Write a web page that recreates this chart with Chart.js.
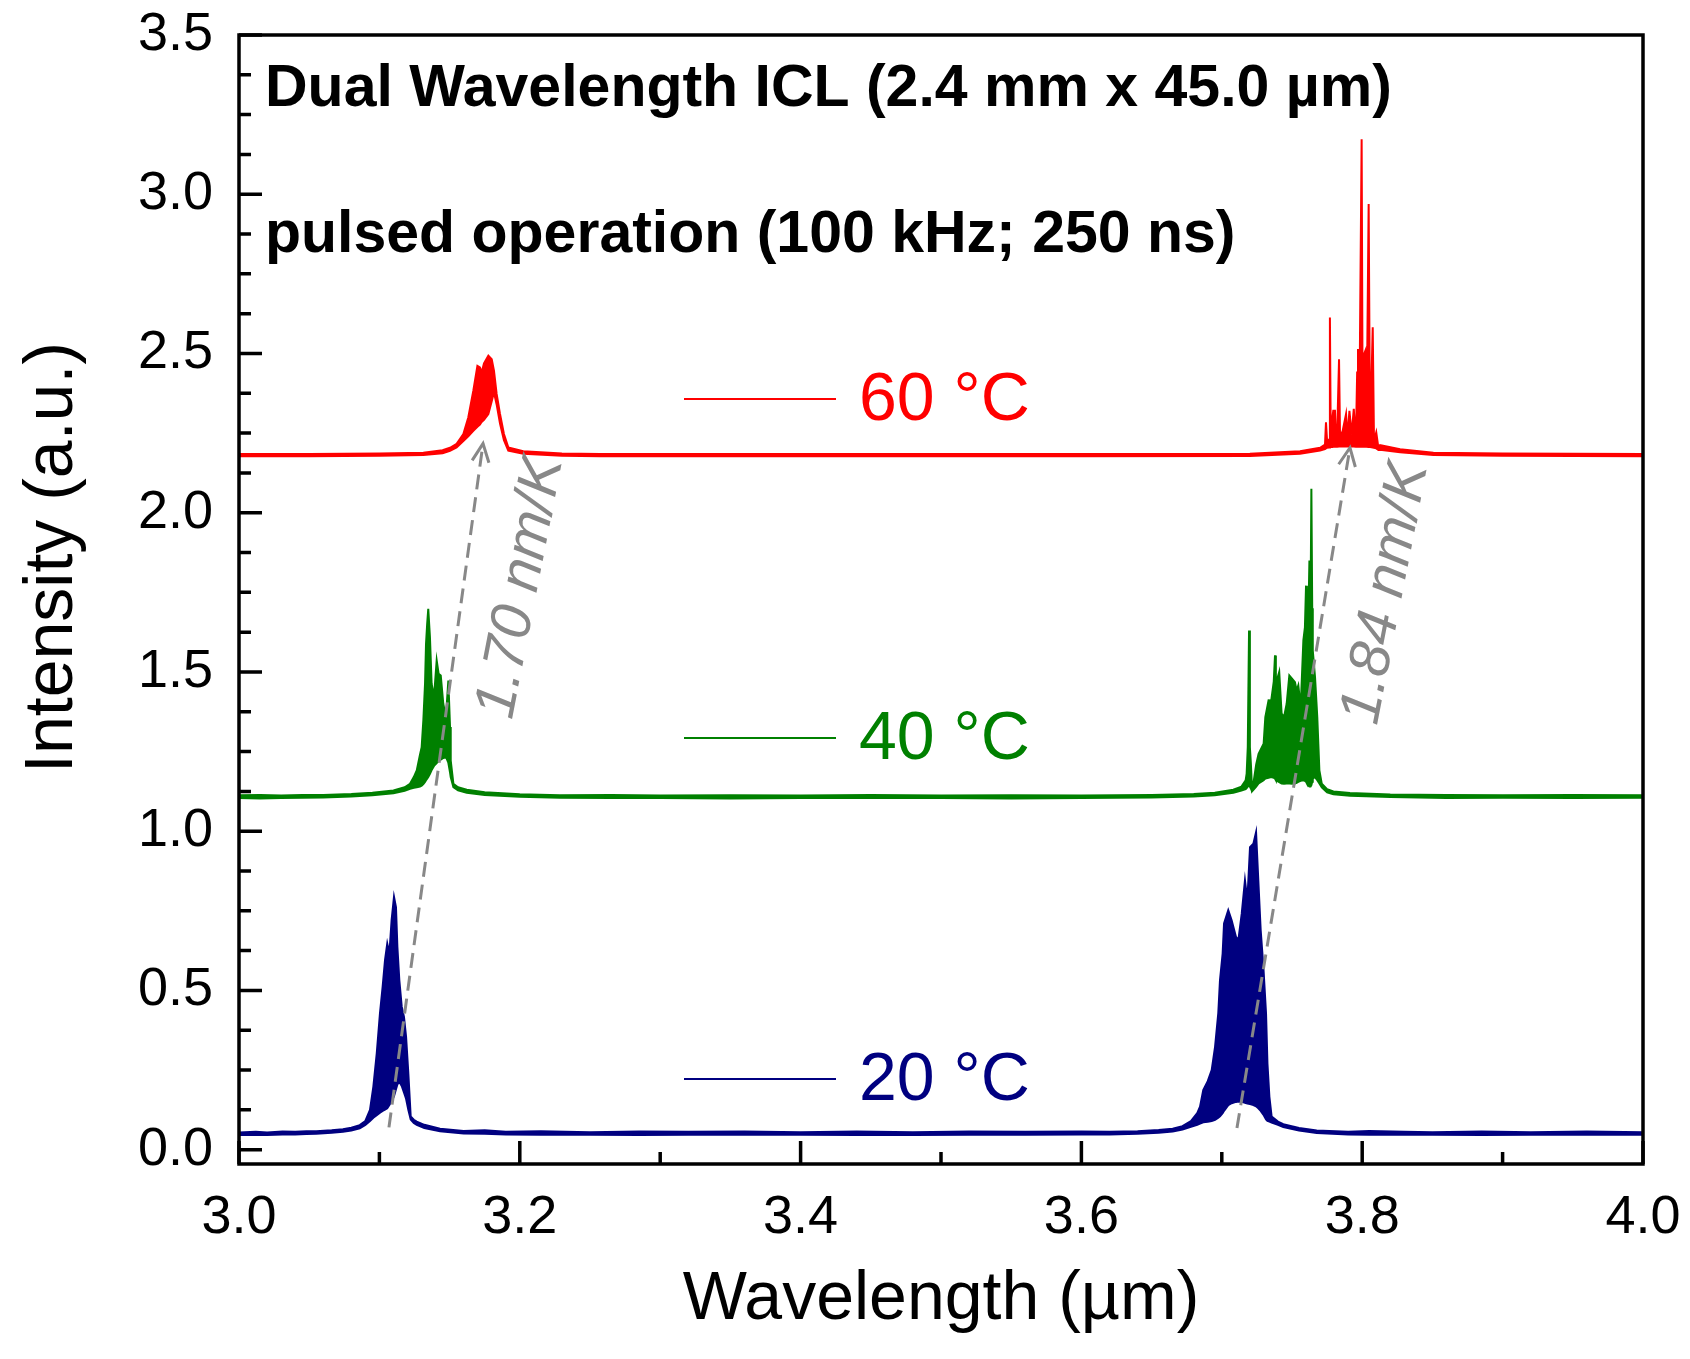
<!DOCTYPE html>
<html>
<head>
<meta charset="utf-8">
<title>Dual Wavelength ICL spectra</title>
<script src="https://cdn.jsdelivr.net/npm/chart.js@4.4.1/dist/chart.umd.min.js"></script>
<style>
  html, body { margin: 0; padding: 0; background: #fff; }
  #wrap { width: 1690px; height: 1359px; position: relative; }
</style>
</head>
<body>
<div id="wrap"><canvas id="spectra"></canvas></div>
<script>
// tick labels
const xTicks = [3.0, 3.2, 3.4, 3.6, 3.8, 4.0];
const yTicks = [0.0, 0.5, 1.0, 1.5, 2.0, 2.5, 3.0, 3.5];

// each point: [wavelength (um), upper envelope, lower envelope]
const spec20 = [
  [3.000, 0.054, 0.046], [3.012, 0.056, 0.047], [3.020, 0.054, 0.046], [3.031, 0.057, 0.048],
  [3.040, 0.056, 0.048], [3.048, 0.058, 0.049], [3.055, 0.058, 0.050],
  [3.066, 0.061, 0.053], [3.074, 0.064, 0.056], [3.080, 0.069, 0.060], [3.086, 0.077, 0.067],
  [3.090, 0.090, 0.078], [3.0933, 0.125, 0.090], [3.0957, 0.198, 0.100], [3.0981, 0.302, 0.108],
  [3.1004, 0.428, 0.116], [3.1023, 0.511, 0.122], [3.1040, 0.595, 0.126], [3.1056, 0.647, 0.130],
  [3.1071, 0.616, 0.140], [3.1087, 0.721, 0.152], [3.1104, 0.794, 0.168], [3.1118, 0.762, 0.190],
  [3.1128, 0.637, 0.205], [3.1142, 0.532, 0.213], [3.1159, 0.449, 0.200], [3.1175, 0.417, 0.180],
  [3.1190, 0.354, 0.160], [3.1206, 0.240, 0.125], [3.1223, 0.104, 0.095], [3.1245, 0.094, 0.084],
  [3.1266, 0.088, 0.078], [3.1320, 0.078, 0.068], [3.1432, 0.066, 0.058], [3.160, 0.059, 0.051],
  [3.175, 0.061, 0.050], [3.190, 0.056, 0.048], [3.215, 0.058, 0.047], [3.250, 0.055, 0.047],
  [3.285, 0.057, 0.046], [3.320, 0.056, 0.047], [3.360, 0.057, 0.047], [3.400, 0.055, 0.047],
  [3.440, 0.057, 0.046], [3.480, 0.055, 0.046], [3.520, 0.057, 0.047], [3.560, 0.056, 0.047],
  [3.600, 0.057, 0.048], [3.620, 0.056, 0.048], [3.640, 0.058, 0.050],
  [3.655, 0.062, 0.053], [3.665, 0.066, 0.057], [3.672, 0.074, 0.063], [3.678, 0.090, 0.072],
  [3.6825, 0.115, 0.078], [3.6845, 0.135, 0.082], [3.6868, 0.187, 0.086], [3.6900, 0.215, 0.088],
  [3.6928, 0.250, 0.090], [3.6952, 0.323, 0.094], [3.6975, 0.429, 0.100], [3.6987, 0.532, 0.105],
  [3.7006, 0.616, 0.115], [3.7016, 0.710, 0.122], [3.7046, 0.752, 0.140], [3.7070, 0.720, 0.146],
  [3.7101, 0.668, 0.150], [3.7118, 0.658, 0.151], [3.7142, 0.741, 0.150], [3.7165, 0.846, 0.147],
  [3.7182, 0.783, 0.145], [3.7201, 0.950, 0.143], [3.7225, 0.961, 0.140], [3.7244, 0.997, 0.136],
  [3.7260, 0.846, 0.130], [3.7277, 0.689, 0.122], [3.7296, 0.574, 0.110], [3.7315, 0.428, 0.095],
  [3.7325, 0.271, 0.090], [3.7339, 0.166, 0.088], [3.7355, 0.104, 0.085], [3.7400, 0.088, 0.078],
  [3.7438, 0.080, 0.071], [3.7550, 0.068, 0.060], [3.7676, 0.060, 0.052], [3.790, 0.056, 0.048],
  [3.805, 0.059, 0.047], [3.830, 0.056, 0.047], [3.850, 0.055, 0.047], [3.885, 0.057, 0.046],
  [3.920, 0.055, 0.047], [3.960, 0.057, 0.047], [4.000, 0.055, 0.047]
];

const spec40 = [
  [3.000, 1.113, 1.104], [3.015, 1.114, 1.103], [3.030, 1.112, 1.104], [3.045, 1.114, 1.105],
  [3.060, 1.114, 1.106], [3.080, 1.117, 1.109],
  [3.095, 1.121, 1.113], [3.110, 1.128, 1.119], [3.118, 1.138, 1.127], [3.1218, 1.149, 1.133],
  [3.1245, 1.170, 1.136], [3.1266, 1.191, 1.138], [3.1289, 1.240, 1.140], [3.1301, 1.264, 1.143],
  [3.1313, 1.348, 1.148], [3.1325, 1.463, 1.155], [3.1332, 1.588, 1.160], [3.1340, 1.650, 1.165],
  [3.1348, 1.698, 1.170], [3.1360, 1.609, 1.180], [3.1372, 1.463, 1.192], [3.1389, 1.421, 1.205],
  [3.1408, 1.536, 1.214], [3.1422, 1.494, 1.220], [3.1437, 1.489, 1.225], [3.1455, 1.400, 1.230],
  [3.1474, 1.358, 1.233], [3.1491, 1.473, 1.215], [3.1503, 1.327, 1.185], [3.1508, 1.222, 1.170],
  [3.1527, 1.149, 1.138], [3.1560, 1.138, 1.128], [3.1622, 1.130, 1.121], [3.175, 1.122, 1.114],
  [3.200, 1.116, 1.108], [3.2286, 1.113, 1.105], [3.265, 1.114, 1.104], [3.300, 1.112, 1.104],
  [3.350, 1.113, 1.103], [3.400, 1.112, 1.104], [3.450, 1.114, 1.104], [3.500, 1.112, 1.104],
  [3.550, 1.113, 1.103], [3.600, 1.112, 1.104], [3.650, 1.114, 1.106], [3.680, 1.117, 1.109],
  [3.695, 1.121, 1.113], [3.7082, 1.130, 1.121], [3.7140, 1.140, 1.128], [3.7170, 1.160, 1.132],
  [3.7177, 1.181, 1.135], [3.7185, 1.264, 1.140], [3.7194, 1.630, 1.145], [3.7200, 1.264, 1.140],
  [3.7207, 1.212, 1.135], [3.7215, 1.135, 1.125], [3.7225, 1.150, 1.130], [3.7245, 1.210, 1.140],
  [3.7262, 1.243, 1.150], [3.7298, 1.275, 1.160], [3.7310, 1.358, 1.165], [3.7333, 1.411, 1.168],
  [3.7352, 1.410, 1.170], [3.7370, 1.470, 1.168], [3.7379, 1.552, 1.165], [3.7385, 1.463, 1.160],
  [3.7409, 1.500, 1.154], [3.7426, 1.369, 1.150], [3.7443, 1.358, 1.149], [3.7462, 1.400, 1.150],
  [3.7481, 1.489, 1.150], [3.7500, 1.479, 1.149], [3.7521, 1.468, 1.150], [3.7533, 1.442, 1.152],
  [3.7545, 1.458, 1.155], [3.7562, 1.390, 1.158], [3.7581, 1.599, 1.160], [3.7592, 1.640, 1.158],
  [3.7600, 1.771, 1.155], [3.7606, 1.600, 1.150], [3.7612, 1.557, 1.145], [3.7624, 1.850, 1.140],
  [3.7632, 1.700, 1.140], [3.7638, 2.075, 1.145], [3.7644, 1.700, 1.155], [3.7648, 1.567, 1.165],
  [3.7664, 1.484, 1.170], [3.7680, 1.358, 1.160], [3.7695, 1.191, 1.150], [3.7712, 1.149, 1.138],
  [3.7750, 1.132, 1.122], [3.7795, 1.125, 1.116], [3.7913, 1.120, 1.111], [3.820, 1.115, 1.107],
  [3.860, 1.114, 1.104], [3.900, 1.113, 1.105], [3.950, 1.114, 1.104], [4.000, 1.113, 1.105]
];

const spec60 = [
  [3.000, 2.184, 2.177], [3.050, 2.184, 2.177], [3.100, 2.186, 2.179], [3.1313, 2.188, 2.181],
  [3.145, 2.196, 2.187], [3.1503, 2.204, 2.194], [3.1550, 2.216, 2.205], [3.1598, 2.247, 2.225],
  [3.1633, 2.299, 2.240], [3.1669, 2.383, 2.257], [3.1698, 2.461, 2.270], [3.1716, 2.456, 2.277],
  [3.1728, 2.440, 2.285], [3.1745, 2.469, 2.292], [3.1776, 2.493, 2.310], [3.1800, 2.482, 2.350],
  [3.1816, 2.446, 2.378], [3.1835, 2.373, 2.340], [3.1859, 2.310, 2.280], [3.1887, 2.247, 2.228],
  [3.1918, 2.205, 2.195], [3.2025, 2.193, 2.185], [3.230, 2.186, 2.179], [3.2571, 2.184, 2.177],
  [3.400, 2.184, 2.177], [3.600, 2.184, 2.177], [3.720, 2.185, 2.178], [3.7557, 2.193, 2.185],
  [3.7700, 2.204, 2.195], [3.7735, 2.214, 2.200], [3.7742, 2.284, 2.202], [3.7750, 2.225, 2.204],
  [3.7764, 2.230, 2.205], [3.7770, 2.613, 2.206], [3.7776, 2.232, 2.206], [3.7788, 2.300, 2.206],
  [3.7794, 2.320, 2.207], [3.7806, 2.320, 2.207], [3.7812, 2.240, 2.207], [3.7822, 2.250, 2.207],
  [3.7835, 2.482, 2.208], [3.7842, 2.245, 2.208], [3.7860, 2.255, 2.208], [3.7885, 2.310, 2.208],
  [3.7895, 2.235, 2.208], [3.7909, 2.320, 2.208], [3.7925, 2.245, 2.208], [3.7940, 2.326, 2.208],
  [3.7955, 2.225, 2.207], [3.7964, 2.440, 2.207], [3.7970, 2.514, 2.207], [3.7978, 2.220, 2.207],
  [3.7996, 3.173, 2.207], [3.8004, 2.225, 2.207], [3.8015, 2.500, 2.207], [3.8022, 2.508, 2.207],
  [3.8030, 2.225, 2.207], [3.8046, 2.969, 2.206], [3.8056, 2.230, 2.206], [3.8075, 2.582, 2.205],
  [3.8084, 2.225, 2.204], [3.8100, 2.252, 2.202], [3.8115, 2.205, 2.197], [3.8127, 2.212, 2.198],
  [3.8270, 2.199, 2.190], [3.8507, 2.188, 2.181], [3.900, 2.186, 2.179], [4.000, 2.184, 2.177]
];

// peak shift arrows [wavelength, intensity] start -> tip
const shiftShort = [[3.1068, 0.070], [3.1738, 2.217]];
const shiftLong = [[3.7108, 0.068], [3.7913, 2.204]];

const series = [
  { label: '20 °C', color: '#000080', pts: spec20 },
  { label: '40 °C', color: '#008000', pts: spec40 },
  { label: '60 °C', color: '#ff0000', pts: spec60 }
];

const slopeLabels = [
  { text: '1.70 nm/K', at: [3.2009, 1.765] },
  { text: '1.84 nm/K', at: [3.8170, 1.747] }
];

const FONT = '"Liberation Sans", Arial, sans-serif';
const GRAY = '#888888';

const datasets = [];
[shiftShort, shiftLong].forEach(a => {
  datasets.push({
    data: a.map(p => ({ x: p[0], y: p[1] })),
    borderColor: GRAY, borderWidth: 3, borderDash: [15, 8],
    pointRadius: 0, fill: false, order: 0
  });
});
series.forEach(s => {
  datasets.push({
    data: s.pts.map(p => ({ x: p[0], y: p[1] })),
    borderColor: s.color, backgroundColor: s.color, borderWidth: 2,
    pointRadius: 0, fill: '+1', order: 1
  });
  datasets.push({
    data: s.pts.map(p => ({ x: p[0], y: p[2] })),
    borderColor: s.color, borderWidth: 2,
    pointRadius: 0, fill: false, order: 1
  });
});

const overlay = {
  id: 'overlay',
  afterDraw(chart) {
    const { ctx, chartArea: a, scales: { x, y } } = chart;
    ctx.save();

    // frame and inward ticks
    ctx.strokeStyle = '#000';
    ctx.lineWidth = 3.5;
    ctx.strokeRect(a.left, a.top, a.right - a.left, a.bottom - a.top);
    ctx.beginPath();
    for (let i = 0; i <= 28; i++) {
      const py = y.getPixelForValue(i * 0.125);
      const len = i % 4 === 0 ? 23 : 12;
      ctx.moveTo(a.left, py); ctx.lineTo(a.left + len, py);
    }
    for (let i = 0; i <= 10; i++) {
      const px = x.getPixelForValue(3 + i * 0.1);
      const len = i % 2 === 0 ? 23 : 12;
      ctx.moveTo(px, a.bottom); ctx.lineTo(px, a.bottom - len);
    }
    ctx.stroke();

    // arrow heads
    ctx.strokeStyle = GRAY;
    ctx.lineWidth = 3;
    [shiftShort, shiftLong].forEach(arr => {
      const x0 = x.getPixelForValue(arr[0][0]), y0 = y.getPixelForValue(arr[0][1]);
      const x1 = x.getPixelForValue(arr[1][0]), y1 = y.getPixelForValue(arr[1][1]);
      const ang = Math.atan2(y1 - y0, x1 - x0);
      const L = 20, th = 25 * Math.PI / 180;
      ctx.beginPath();
      ctx.moveTo(x1 - L * Math.cos(ang - th), y1 - L * Math.sin(ang - th));
      ctx.lineTo(x1, y1);
      ctx.lineTo(x1 - L * Math.cos(ang + th), y1 - L * Math.sin(ang + th));
      ctx.stroke();
    });

    // slope labels
    ctx.fillStyle = GRAY;
    ctx.font = 'italic 58px ' + FONT;
    ctx.textAlign = 'center';
    ctx.textBaseline = 'middle';
    slopeLabels.forEach(l => {
      ctx.save();
      ctx.translate(x.getPixelForValue(l.at[0]), y.getPixelForValue(l.at[1]));
      ctx.rotate(-79 * Math.PI / 180);
      ctx.fillText(l.text, 0, 0);
      ctx.restore();
    });

    // header text
    ctx.fillStyle = '#000';
    ctx.textAlign = 'left';
    ctx.textBaseline = 'alphabetic';
    ctx.font = 'bold 59px ' + FONT;
    ctx.fillText('Dual Wavelength ICL (2.4 mm x 45.0 µm)', a.left + 26, a.top + 71);
    ctx.fillText('pulsed operation (100 kHz; 250 ns)', a.left + 26, a.top + 217);

    // legend
    const legendY = [1044, 703, 364];
    ctx.font = '68px ' + FONT;
    ctx.textBaseline = 'middle';
    series.forEach((s, i) => {
      const ly = a.top + legendY[i];
      ctx.strokeStyle = s.color;
      ctx.lineWidth = 2;
      ctx.beginPath();
      ctx.moveTo(a.left + 445, ly); ctx.lineTo(a.left + 597, ly);
      ctx.stroke();
      ctx.fillStyle = s.color;
      ctx.fillText(s.label, a.left + 620, ly + 2);
    });

    // axis titles
    ctx.fillStyle = '#000';
    ctx.font = '68px ' + FONT;
    ctx.textAlign = 'center';
    ctx.textBaseline = 'alphabetic';
    ctx.fillText('Wavelength (µm)', (a.left + a.right) / 2, a.bottom + 155);
    ctx.save();
    ctx.translate(a.left - 167, (a.top + a.bottom) / 2 - 42);
    ctx.rotate(-Math.PI / 2);
    ctx.fillText('Intensity (a.u.)', 0, 0);
    ctx.restore();

    ctx.restore();
  }
};

new Chart(document.getElementById('spectra'), {
  type: 'line',
  data: { datasets },
  plugins: [overlay],
  options: {
    responsive: true,
    maintainAspectRatio: false,
    animation: false,
    layout: { padding: { top: 35, right: 47, left: 0, bottom: 0 } },
    plugins: { legend: { display: false }, tooltip: { enabled: false } },
    elements: { line: { tension: 0 } },
    scales: {
      x: {
        type: 'linear', min: 3.0, max: 4.0,
        grid: { display: false, drawTicks: false }, border: { display: false },
        afterBuildTicks: s => { s.ticks = xTicks.map(v => ({ value: v })); },
        afterFit: s => { s.height = 195; s.paddingLeft = 0; s.paddingRight = 0; },
        ticks: { padding: 22, color: '#000', font: { family: FONT, size: 54 }, maxRotation: 0, autoSkip: false,
          callback: v => v.toFixed(1) }
      },
      y: {
        type: 'linear', min: -0.045, max: 3.5,
        grid: { display: false, drawTicks: false }, border: { display: false },
        afterBuildTicks: s => { s.ticks = yTicks.map(v => ({ value: v })); },
        afterFit: s => { s.width = 239; s.paddingTop = 0; s.paddingBottom = 0; },
        ticks: { padding: 26, color: '#000', font: { family: FONT, size: 54 }, autoSkip: false,
          callback: v => v.toFixed(1) }
      }
    }
  }
});
</script>
</body>
</html>
